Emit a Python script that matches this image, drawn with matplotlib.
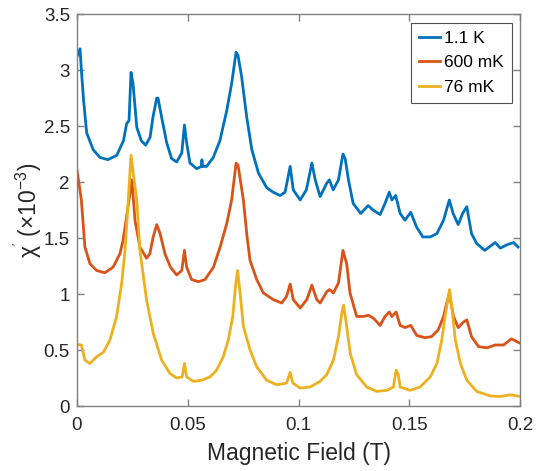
import numpy as np
import matplotlib
matplotlib.use('Agg')
from matplotlib import pyplot as plt

plt.rcParams['font.family'] = ['Liberation Sans', 'DejaVu Sans']
plt.rcParams['mathtext.fontset'] = 'custom'
plt.rcParams['mathtext.rm'] = 'Liberation Sans'
plt.rcParams['mathtext.it'] = 'Liberation Sans:italic'

labels = ['1.1 K', '600 mK', '76 mK']
colors = ['#0072BD', '#D95319', '#EDB120']

# 1.1 K
x_blue = [0.0, 0.0014, 0.002, 0.003, 0.0044, 0.0073, 0.0104, 0.014, 0.018, 0.021, 0.0224, 0.0235,
          0.0244, 0.0253, 0.027, 0.029, 0.031, 0.033, 0.0343, 0.036, 0.0366, 0.0382, 0.0405, 0.0427,
          0.045, 0.0473, 0.0485, 0.0495, 0.051, 0.054, 0.0562, 0.0564, 0.0566, 0.0585, 0.0615, 0.0645,
          0.0676, 0.0698, 0.0718, 0.0727, 0.0743, 0.0766, 0.0789, 0.0819, 0.0856, 0.0885, 0.0917,
          0.0939, 0.0962, 0.0976, 0.1007, 0.1035, 0.106, 0.1075, 0.1097, 0.1127, 0.1139, 0.1156,
          0.118, 0.12, 0.121, 0.1225, 0.1246, 0.128, 0.1314, 0.1336, 0.1368, 0.139, 0.1409, 0.1421,
          0.1438, 0.1458, 0.148, 0.1506, 0.1532, 0.156, 0.1594, 0.1624, 0.1654, 0.168, 0.1697,
          0.172, 0.174, 0.1759, 0.178, 0.1804, 0.184, 0.186, 0.1887, 0.191, 0.194, 0.197, 0.199]
y_blue = [3.12, 3.19, 3.0, 2.73, 2.44, 2.29, 2.22, 2.2, 2.24, 2.37, 2.52, 2.55,
          2.98, 2.88, 2.49, 2.37, 2.33, 2.4, 2.58, 2.75, 2.75, 2.58, 2.35, 2.21,
          2.18, 2.26, 2.51, 2.35, 2.17, 2.12, 2.14, 2.2, 2.14, 2.14, 2.22, 2.37,
          2.64, 2.88, 3.16, 3.13, 2.94, 2.58, 2.29, 2.08, 1.95, 1.91, 1.88,
          1.91, 2.14, 1.93, 1.84, 1.93, 2.17, 2.02, 1.87, 1.99, 2.02, 1.93,
          2.02, 2.25, 2.21, 2.02, 1.81, 1.72, 1.79, 1.75, 1.71, 1.81, 1.91, 1.84,
          1.88, 1.72, 1.66, 1.73, 1.6, 1.51, 1.51, 1.54, 1.66, 1.84, 1.72,
          1.62, 1.72, 1.78, 1.54, 1.45, 1.39, 1.42, 1.46, 1.41, 1.44, 1.46, 1.42]

# 600 mK
x_red = [0.0, 0.002, 0.0036, 0.0059, 0.0089, 0.0126, 0.0163, 0.0194, 0.0208, 0.0224, 0.0248,
         0.0262, 0.0284, 0.0314, 0.0329, 0.0344, 0.036, 0.0375, 0.0397, 0.0422, 0.045, 0.0473,
         0.0485, 0.0495, 0.0517, 0.0548, 0.0578, 0.0616, 0.0646, 0.0676, 0.0698, 0.0718, 0.0727,
         0.0751, 0.0766, 0.0781, 0.0811, 0.0841, 0.0886, 0.0924, 0.0946, 0.0962, 0.0976, 0.1007,
         0.1037, 0.106, 0.1082, 0.1097, 0.1127, 0.1139, 0.1157, 0.118, 0.12, 0.1217, 0.1232,
         0.1262, 0.1292, 0.1315, 0.1337, 0.1368, 0.139, 0.1409, 0.1421, 0.144, 0.1458, 0.148,
         0.1506, 0.1533, 0.157, 0.16, 0.163, 0.1654, 0.1672, 0.168, 0.1699, 0.172, 0.1744,
         0.1759, 0.178, 0.1812, 0.185, 0.1887, 0.1925, 0.196, 0.2]
y_red = [2.11, 1.84, 1.42, 1.27, 1.21, 1.19, 1.24, 1.36, 1.48, 1.69, 2.02,
         1.66, 1.42, 1.32, 1.36, 1.51, 1.62, 1.54, 1.36, 1.24, 1.17, 1.21,
         1.39, 1.24, 1.13, 1.11, 1.13, 1.24, 1.42, 1.63, 1.84, 2.17, 2.15,
         1.84, 1.54, 1.3, 1.13, 1.01, 0.95, 0.92, 0.98, 1.09, 0.95, 0.875,
         0.95, 1.08, 0.95, 0.92, 1.02, 1.04, 1.01, 1.1, 1.39, 1.27, 1.01,
         0.8, 0.8, 0.81, 0.785, 0.72, 0.8, 0.84, 0.8, 0.84, 0.72, 0.7,
         0.72, 0.63, 0.61, 0.62, 0.68, 0.8, 0.95, 1.0, 0.8, 0.7, 0.75,
         0.77, 0.62, 0.53, 0.52, 0.545, 0.545, 0.6, 0.56]

# 76 mK
x_yel = [0.0, 0.002, 0.0036, 0.0059, 0.0089, 0.0119, 0.0149, 0.0179, 0.0202, 0.0217, 0.0227,
         0.0244, 0.0254, 0.027, 0.0284, 0.0314, 0.0344, 0.0382, 0.042, 0.045, 0.0475, 0.0485,
         0.0495, 0.0525, 0.0563, 0.06, 0.063, 0.066, 0.0683, 0.0703, 0.0717, 0.0725, 0.0736,
         0.0751, 0.0781, 0.0811, 0.0856, 0.0901, 0.0946, 0.0962, 0.0974, 0.1007, 0.1052, 0.1097,
         0.1127, 0.1157, 0.118, 0.1195, 0.1203, 0.1215, 0.1233, 0.1262, 0.1307, 0.1353, 0.1398,
         0.1428, 0.144, 0.145, 0.1458, 0.1503, 0.1548, 0.1594, 0.1624, 0.1646, 0.1661, 0.1681,
         0.1692, 0.1707, 0.173, 0.1759, 0.1804, 0.1865, 0.191, 0.1955, 0.2]
y_yel = [0.55, 0.545, 0.41, 0.38, 0.44, 0.48, 0.59, 0.8, 1.1, 1.39, 1.69,
         2.24, 2.08, 1.84, 1.39, 0.95, 0.65, 0.41, 0.29, 0.25, 0.26, 0.38,
         0.26, 0.22, 0.23, 0.26, 0.32, 0.44, 0.59, 0.8, 1.1, 1.21, 1.01,
         0.71, 0.5, 0.35, 0.23, 0.19, 0.205, 0.3, 0.205, 0.16, 0.17, 0.22,
         0.28, 0.41, 0.62, 0.83, 0.9, 0.74, 0.47, 0.28, 0.17, 0.13, 0.14,
         0.17, 0.32, 0.28, 0.17, 0.14, 0.17, 0.26, 0.38, 0.59, 0.8, 1.04,
         0.875, 0.59, 0.38, 0.23, 0.13, 0.09, 0.085, 0.1, 0.085]

fig = plt.figure(figsize=(5.38, 4.71), dpi=100)
ax = fig.add_axes([0.143, 0.138, 0.824, 0.832])

for xs, ys, c, lab in zip([x_blue, x_red, x_yel], [y_blue, y_red, y_yel], colors, labels):
    ax.plot(xs, ys, color=c, lw=2.0, label=lab)

ax.set_xlim(0, 0.2)
ax.set_ylim(0, 3.5)
ax.set_xticks([0, 0.05, 0.1, 0.15, 0.2])
ax.set_xticklabels(['0', '0.05', '0.1', '0.15', '0.2'])
ax.set_yticks(np.arange(0, 3.51, 0.5))
ax.set_yticklabels(['0', '0.5', '1', '1.5', '2', '2.5', '3', '3.5'])
ax.tick_params(direction='in', top=True, right=True, length=5, width=1,
               labelsize=13.5, color='#808080', labelcolor='#262626')
ax.tick_params(axis='x', pad=8)
ax.tick_params(axis='y', pad=5)
for s in ax.spines.values():
    s.set_color('#808080')
    s.set_linewidth(1)

ax.set_xlabel('Magnetic Field (T)', fontsize=16.5, color='#262626', labelpad=6)
ax.set_ylabel("χ$^{'}$ (×10$^{-3}$)", fontsize=16.5, color='#262626', labelpad=0)

leg = ax.legend(loc='upper right', fontsize=12.5, frameon=True, fancybox=False,
                edgecolor='#262626', handlelength=1.2, borderaxespad=0.5,
                labelspacing=0.55, handletextpad=0.25, borderpad=0.45)
leg.get_frame().set_linewidth(0.8)

plt.savefig('out.png', dpi=100)
